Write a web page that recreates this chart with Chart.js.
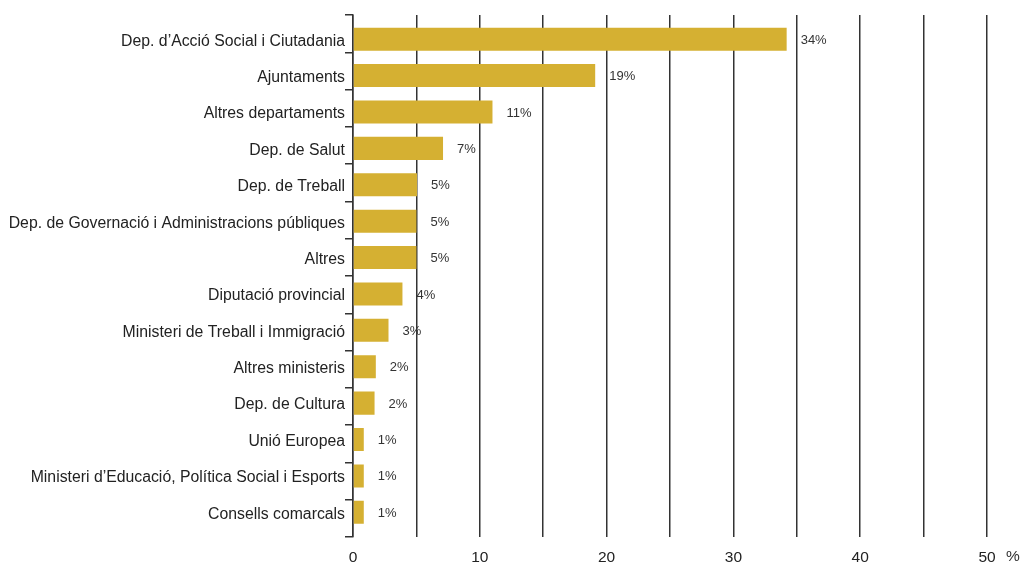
<!DOCTYPE html>
<html>
<head>
<meta charset="utf-8">
<script src="https://cdn.jsdelivr.net/npm/chart.js@4"></script>
<style>
  html, body { margin: 0; padding: 0; background: #fff; }
  #wrap { width: 1021px; height: 562px; }
</style>
</head>
<body>
<div id="wrap"><canvas id="barChart" width="1021" height="562"></canvas></div>
<script>
// categories and values
const categories = [
  'Dep. d\u2019Acció Social i Ciutadania',
  'Ajuntaments',
  'Altres departaments',
  'Dep. de Salut',
  'Dep. de Treball',
  'Dep. de Governació i Administracions públiques',
  'Altres',
  'Diputació provincial',
  'Ministeri de Treball i Immigració',
  'Altres ministeris',
  'Dep. de Cultura',
  'Unió Europea',
  'Ministeri d\u2019Educació, Política Social i Esports',
  'Consells comarcals'
];
const shares = [34.2, 19.1, 11.0, 7.1, 5.05, 5.0, 5.0, 3.9, 2.8, 1.8, 1.7, 0.85, 0.85, 0.85];
const shareLabels = ['34%', '19%', '11%', '7%', '5%', '5%', '5%', '4%', '3%', '2%', '2%', '1%', '1%', '1%'];
const xTicksShown = [0, 10, 20, 30, 40, 50];

const fontFamily = '"Liberation Sans", Arial, sans-serif';

// the bars sit a little inside the bracket drawn by the left axis
const barAxisInset = {
  id: 'barAxisInset',
  afterLayout(chart) {
    const y = chart.scales.y;
    y.top = chart.chartArea.top + 6;
    y.bottom = chart.chartArea.bottom - 6.5;
    y.height = y.bottom - y.top;
    y.configure();
  }
};

// draws "34%" etc after each bar
const valueLabels = {
  id: 'valueLabels',
  afterDatasetsDraw(chart) {
    const ctx = chart.ctx;
    const meta = chart.getDatasetMeta(0);
    ctx.save();
    ctx.font = '13px ' + fontFamily;
    ctx.fillStyle = '#333';
    ctx.textAlign = 'left';
    ctx.textBaseline = 'middle';
    meta.data.forEach((bar, i) => {
      ctx.fillText(shareLabels[i], bar.x + 14, bar.y + 1);
    });
    ctx.restore();
  }
};

// the "%" unit after the last x tick
const unitLabel = {
  id: 'unitLabel',
  afterDraw(chart) {
    const ctx = chart.ctx;
    const xs = chart.scales.x;
    ctx.save();
    ctx.font = '15.5px ' + fontFamily;
    ctx.fillStyle = '#333';
    ctx.textAlign = 'center';
    ctx.textBaseline = 'middle';
    ctx.fillText('%', xs.getPixelForValue(50) + 26, 557);
    ctx.restore();
  }
};

const ctx = document.getElementById('barChart').getContext('2d');
const chart = new Chart(ctx, {
  type: 'bar',
  data: {
    labels: categories,
    datasets: [{
      data: shares,
      backgroundColor: '#d5b032',
      borderWidth: 0,
      categoryPercentage: 1,
      barPercentage: 0.633
    }]
  },
  options: {
    indexAxis: 'y',
    responsive: false,
    animation: false,
    layout: { padding: { top: 15, right: 34, left: 0, bottom: 0 } },
    plugins: {
      legend: { display: false },
      tooltip: { enabled: false }
    },
    scales: {
      x: {
        min: 0,
        max: 50,
        afterFit(scale) { scale.height = 25; },
        border: { display: false },
        grid: {
          color: '#333',
          lineWidth: 1.5,
          drawTicks: false
        },
        ticks: {
          stepSize: 5,
          autoSkip: false,
          maxRotation: 0,
          padding: 11,
          color: '#222',
          font: { size: 15.5, family: fontFamily },
          callback: (v) => xTicksShown.includes(v) ? String(v) : ''
        }
      },
      y: {
        weight: 1,
        afterFit(scale) {
          scale.width = 353;
          scale.paddingTop = 0;
          scale.paddingBottom = 0;
        },
        border: { display: false },
        grid: { display: false, drawTicks: false },
        ticks: {
          padding: 8,
          labelOffset: 2,
          color: '#222',
          font: { size: 15.8, family: fontFamily }
        }
      },
      yb: {
        type: 'category',
        labels: categories,
        position: 'left',
        weight: 0,
        afterFit(scale) { scale.width = 0; },
        border: { display: true, color: '#333', width: 1.5 },
        grid: {
          offset: true,
          drawOnChartArea: false,
          drawTicks: true,
          tickLength: 8,
          color: '#333',
          lineWidth: 1.5
        },
        ticks: { display: false }
      }
    }
  },
  plugins: [barAxisInset, valueLabels, unitLabel]
});
</script>
</body>
</html>
